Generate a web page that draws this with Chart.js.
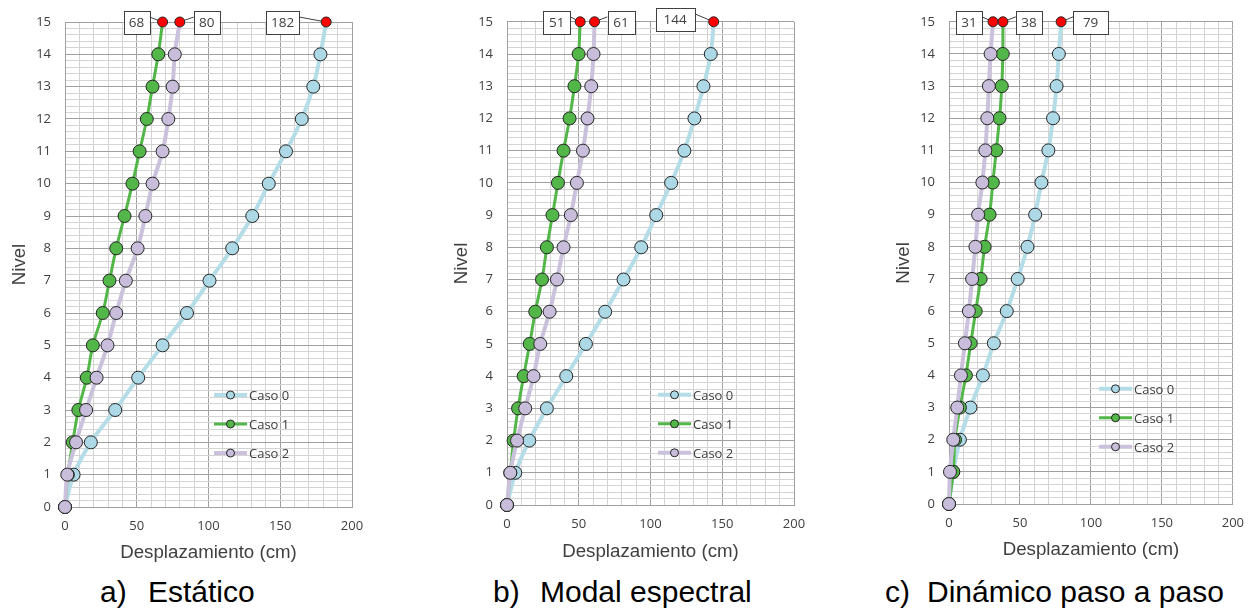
<!DOCTYPE html>
<html>
<head>
<meta charset="utf-8">
<script src="https://cdn.jsdelivr.net/npm/chart.js@4.4.1/dist/chart.umd.min.js"></script>
<style>
  html, body { margin: 0; padding: 0; background: #fff; overflow: hidden; }
  body { width: 1255px; height: 609px; position: relative; font-family: "Liberation Sans", Arial, sans-serif; }
  .panel { position: absolute; top: 0; height: 570px; }
  .cap { position: absolute; top: 577px; font-size: 30px; line-height: 30px; color: #000; white-space: nowrap; }
</style>
</head>
<body>
<div class="panel" style="left:0;width:380px"><canvas id="chartA"></canvas></div>
<div class="panel" style="left:442px;width:380px"><canvas id="chartB"></canvas></div>
<div class="panel" style="left:884px;width:371px"><canvas id="chartC"></canvas></div>

<div class="cap" style="left:100px">a)</div><div class="cap" style="left:148px">Estático</div>
<div class="cap" style="left:493px">b)</div><div class="cap" style="left:540px">Modal espectral</div>
<div class="cap" style="left:885px">c)</div><div class="cap" style="left:927px">Dinámico paso a paso</div>

<script>
/* data: displacement (cm) per level */
const LEVELS = [0, 1, 2, 3, 4, 5, 6, 7, 8, 9, 10, 11, 12, 13, 14, 15];
const CASOS = ["Caso 0", "Caso 1", "Caso 2"];

// a) Estático
const estatico0 = [0, 6, 18, 35, 51, 68, 85, 100.7, 116.5, 130.5, 142, 154, 165, 173, 178, 182];
const estatico1 = [0, 2, 5.4, 9.3, 15.2, 19.4, 26.3, 31, 35.7, 41.5, 47, 52, 57, 61, 65, 68];
const estatico2 = [0, 1.6, 7.7, 14.7, 22, 29.6, 35.7, 42.4, 50.6, 56, 61, 68, 72, 75, 76.5, 80];

// b) Modal espectral
const modal0 = [0, 5.8, 15.5, 27.8, 41.3, 55, 68.4, 81.2, 93.5, 104, 114.4, 123.6, 130.6, 136.9, 142, 144];
const modal1 = [0, 2.3, 4.6, 7.7, 11.6, 15.8, 19.7, 24.4, 27.8, 31.7, 35.5, 39.4, 43.6, 47, 49.9, 51];
const modal2 = [0, 2.3, 7, 12.7, 18.5, 23.2, 29.7, 34.8, 39.4, 44.5, 48.7, 52.9, 56.1, 58.7, 60.3, 61];

// c) Dinámico paso a paso
const dinamico0 = [0, 3, 7.7, 15.1, 23.9, 31.6, 40.7, 48.4, 55.3, 60.7, 65.1, 70, 73.3, 75.8, 77.4, 79];
const dinamico1 = [0, 3, 4.2, 7.7, 11.9, 15.3, 18.8, 22.3, 25.1, 28.6, 30.9, 33.3, 35.6, 37.2, 37.9, 38];
const dinamico2 = [0, 0.7, 3, 5.8, 8.4, 11.2, 14, 16.3, 18.6, 20.5, 23.5, 25.6, 27, 28.1, 29.3, 31];

const X_MIN = 0, X_MAX = 200, X_STEP = 10, X_MAJOR = 50;
const Y_MIN = 0, Y_MAX = 15, Y_SUB = 5;

/* styles */
const LINE_COLORS = ["#b4dde7", "#52b748", "#cbc1dc"];
const FILL_COLORS = ["#add8e6", "#52b748", "#c8bddb"];
const LINE_WIDTHS = [4, 3, 4];
const MAJOR = "#a0a0a0";
const MINOR = "#d4d4d4";
const TXT = "#404040";
const TICK_FONT = { family: "Open Sans", size: 13 };

const TOP = LEVELS.length - 1;

/* callout boxes on the top level values */
const calloutPlugin = {
  id: "callouts",
  beforeDatasetsDraw(chart, args, opts) {
    const ctx = chart.ctx;
    ctx.save();
    opts.items.forEach(it => {
      const p = chart.getDatasetMeta(it.ds).data[TOP];
      const b = boxOf(p, it);
      const ex = it.side === "left" ? b.x + b.w : b.x;
      ctx.strokeStyle = TXT;
      ctx.lineWidth = 1;
      ctx.beginPath();
      ctx.moveTo(ex, b.y + 6);
      ctx.lineTo(p.x, p.y);
      ctx.stroke();
    });
    ctx.restore();
  },
  afterDatasetsDraw(chart, args, opts) {
    const ctx = chart.ctx;
    ctx.save();
    opts.items.forEach(it => {
      const p = chart.getDatasetMeta(it.ds).data[TOP];
      const val = chart.data.datasets[it.ds].data[TOP].x;
      const b = boxOf(p, it);
      ctx.fillStyle = "#fff";
      ctx.fillRect(b.x, b.y, b.w, b.h);
      ctx.strokeStyle = TXT;
      ctx.lineWidth = 1;
      ctx.strokeRect(Math.round(b.x) + 0.5, Math.round(b.y) + 0.5, b.w, b.h);
      ctx.fillStyle = TXT;
      ctx.font = "13.5px 'Open Sans'";
      ctx.textAlign = "center";
      ctx.textBaseline = "middle";
      ctx.fillText(String(Math.round(val)), b.x + b.w / 2, b.y + b.h / 2 + 1);
    });
    ctx.restore();
  }
};

function boxOf(p, it) {
  const h = 23;
  const x = it.side === "left" ? p.x - it.gap - it.w : p.x + it.gap;
  return { x: x, y: p.y - 11 + (it.dy || 0), w: it.w, h: h };
}

/* legend drawn inside the plot area */
const legendPlugin = {
  id: "inlegend",
  afterDraw(chart, args, opts) {
    const { ctx, chartArea } = chart;
    ctx.save();
    chart.data.datasets.forEach((ds, i) => {
      const x = chartArea.left + opts.x;
      const y = chartArea.top + opts.y + i * 29;
      ctx.strokeStyle = LINE_COLORS[i];
      ctx.lineWidth = LINE_WIDTHS[i];
      ctx.beginPath();
      ctx.moveTo(x, y);
      ctx.lineTo(x + 33, y);
      ctx.stroke();
      ctx.beginPath();
      ctx.arc(x + 16.5, y, 4, 0, Math.PI * 2);
      ctx.fillStyle = FILL_COLORS[i];
      ctx.fill();
      ctx.lineWidth = 1;
      ctx.strokeStyle = "#262626";
      ctx.stroke();
      ctx.fillStyle = TXT;
      ctx.font = "13px 'Open Sans'";
      ctx.textAlign = "left";
      ctx.textBaseline = "middle";
      ctx.fillText(ds.label, x + 35, y + 1);
    });
    ctx.restore();
  }
};

function makeChart(id, series, o) {
  const datasets = series.map((vals, i) => ({
    label: CASOS[i],
    data: vals.map((v, k) => ({ x: v, y: LEVELS[k] })),
    showLine: true,
    tension: 0.35,
    borderColor: LINE_COLORS[i],
    borderWidth: LINE_WIDTHS[i],
    pointRadius: c => c.dataIndex === TOP ? 5 : 6.5,
    pointBackgroundColor: c => c.dataIndex === TOP ? "#ff0000" : FILL_COLORS[i],
    pointBorderColor: "#262626",
    pointBorderWidth: 1,
    order: 3 - i,
    clip: false
  }));

  new Chart(document.getElementById(id), {
    type: "scatter",
    data: { datasets },
    plugins: [calloutPlugin, legendPlugin],
    options: {
      responsive: true,
      maintainAspectRatio: false,
      animation: false,
      layout: { padding: { left: 0, right: o.pr, top: o.pt, bottom: 0 } },
      plugins: {
        legend: { display: false },
        tooltip: { enabled: false },
        callouts: { items: o.callouts },
        inlegend: { x: o.legX, y: o.legY }
      },
      scales: {
        x: {
          type: "linear",
          min: X_MIN, max: X_MAX,
          afterBuildTicks: s => {
            s.ticks = [];
            for (let v = X_MIN; v <= X_MAX; v += X_STEP) s.ticks.push({ value: v });
          },
          afterFit: s => { s.height = o.xh; },
          ticks: {
            autoSkip: false, maxRotation: 0, padding: 11,
            font: TICK_FONT, color: TXT,
            callback: v => v % X_MAJOR === 0 ? v : ""
          },
          grid: {
            drawTicks: false,
            color: c => (c.tick && c.tick.value % X_MAJOR === 0) ? MAJOR : MINOR
          },
          border: { color: MAJOR },
          title: {
            display: true, text: "Desplazamiento (cm)", color: TXT,
            font: { family: "Liberation Sans", size: 18.7 },
            padding: { top: 0, bottom: o.xtp }
          }
        },
        y: {
          type: "linear",
          min: Y_MIN, max: Y_MAX,
          afterBuildTicks: s => {
            s.ticks = [];
            for (let k = Y_MIN * Y_SUB; k <= Y_MAX * Y_SUB; k++) s.ticks.push({ value: k / Y_SUB });
          },
          afterFit: s => { s.width = 65; },
          ticks: {
            autoSkip: false, padding: 14,
            font: TICK_FONT, color: TXT,
            callback: v => Number.isInteger(v) ? v : ""
          },
          grid: {
            drawTicks: false,
            color: c => (c.tick && Number.isInteger(c.tick.value)) ? MAJOR : MINOR
          },
          border: { color: MAJOR },
          title: {
            display: true, text: "Nivel", color: TXT,
            font: { family: "Liberation Sans", size: 18.7 },
            padding: { top: 9, bottom: 0 }
          }
        }
      }
    }
  });
}

makeChart("chartA", [estatico0, estatico1, estatico2], {
  pr: 28, pt: 22, xh: 63, xtp: 6, legX: 149, legY: 373,
  callouts: [
    { ds: 1, side: "left", gap: 13, w: 26 },
    { ds: 2, side: "right", gap: 14, w: 26 },
    { ds: 0, side: "left", gap: 27, w: 33 }
  ]
});

makeChart("chartB", [modal0, modal1, modal2], {
  pr: 28, pt: 20, xh: 65, xtp: 7, legX: 151, legY: 373,
  callouts: [
    { ds: 1, side: "left", gap: 10, w: 27 },
    { ds: 2, side: "right", gap: 13, w: 27 },
    { ds: 0, side: "left", gap: 19, w: 39, dy: -3 }
  ]
});

makeChart("chartC", [dinamico0, dinamico1, dinamico2], {
  pr: 19, pt: 20, xh: 66, xtp: 9, legX: 150, legY: 367,
  callouts: [
    { ds: 2, side: "left", gap: 11, w: 26 },
    { ds: 1, side: "right", gap: 13, w: 26 },
    { ds: 0, side: "right", gap: 12, w: 35 }
  ]
});
</script>
</body>
</html>
